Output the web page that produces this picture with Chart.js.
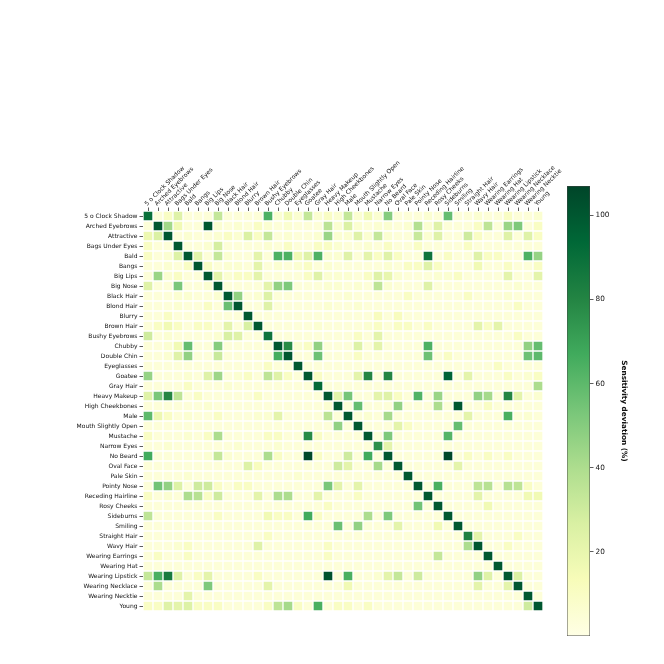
<!DOCTYPE html>
<html>
<head>
<meta charset="utf-8">
<script src="https://cdn.jsdelivr.net/npm/chart.js@4.4.1/dist/chart.umd.min.js"></script>
<style>
  html, body { margin: 0; padding: 0; background: #fff; }
  #wrap { position: relative; width: 664px; height: 664px; }
  #wrap canvas { position: absolute; left: 0; top: 0; }
</style>
</head>
<body>
<div id="wrap">
  <canvas id="chart-heat" width="664" height="664"></canvas>
  <canvas id="chart-bar" width="664" height="664"></canvas>
</div>
<script>
const attributes = [
  "5 o Clock Shadow", "Arched Eyebrows", "Attractive", "Bags Under Eyes", "Bald", "Bangs",
  "Big Lips", "Big Nose", "Black Hair", "Blond Hair", "Blurry", "Brown Hair", "Bushy Eyebrows",
  "Chubby", "Double Chin", "Eyeglasses", "Goatee", "Gray Hair", "Heavy Makeup", "High Cheekbones",
  "Male", "Mouth Slightly Open", "Mustache", "Narrow Eyes", "No Beard", "Oval Face", "Pale Skin",
  "Pointy Nose", "Receding Hairline", "Rosy Cheeks", "Sideburns", "Smiling", "Straight Hair",
  "Wavy Hair", "Wearing Earrings", "Wearing Hat", "Wearing Lipstick", "Wearing Necklace",
  "Wearing Necktie", "Young"
];

// sensitivity deviation (%), row = attribute changed, column = attribute measured
const sensitivity = [
  [90,4,10,24,4,4,4,33,4,4,4,4,64,6,16,6,33,6,10,6, 33,6,16,6,50,4,4,4,6,4,58,4,4,6,4,4,10,4,4,6],
  [4,100,43,16,4,4,100,6,4,6,4,10,6,4,6,4,4,4,36,6, 26,6,4,6,6,4,6,38,6,24,4,4,4,10,35,4,45,52,4,10],
  [18,26,100,4,6,4,4,6,10,6,26,10,33,4,6,4,4,6,45,6, 6,24,6,33,6,4,4,32,6,24,4,4,30,10,4,4,24,4,24,10],
  [10,4,4,100,4,4,6,28,4,4,4,4,6,4,10,4,4,10,10,6, 4,4,6,4,10,4,4,10,4,4,4,4,10,4,4,4,4,4,4,4],
  [10,4,6,25,100,22,4,33,6,4,4,22,4,64,64,16,24,64,6,6, 24,4,22,10,24,10,4,4,88,4,10,4,4,24,10,10,4,4,64,46],
  [4,4,6,4,10,100,10,4,6,6,4,22,4,6,4,6,10,4,6,4, 4,4,4,4,6,4,10,10,24,10,4,4,4,16,4,4,10,4,4,10],
  [4,45,6,10,4,4,100,22,6,10,10,22,4,4,4,4,10,24,6,6, 6,4,10,24,20,6,4,4,4,6,6,10,4,4,4,4,22,4,4,22],
  [24,4,4,53,4,4,6,100,4,4,4,4,22,47,52,4,4,4,6,6, 4,6,4,35,6,4,4,4,24,4,4,4,4,4,4,4,4,6,4,4],
  [4,4,4,6,6,4,4,6,100,47,4,6,25,4,4,4,4,4,4,4, 6,4,4,4,4,4,10,4,4,4,4,4,10,4,4,4,6,4,4,4],
  [4,4,4,6,4,4,10,4,57,100,4,4,24,4,4,4,4,4,6,4, 4,6,4,4,4,4,4,4,4,4,4,4,4,4,4,4,4,10,4,4],
  [4,4,10,4,4,4,4,4,4,4,100,4,4,4,4,4,4,4,4,4, 4,4,4,12,4,12,4,4,4,4,4,4,4,4,4,4,4,4,4,4],
  [4,10,16,10,4,10,10,4,22,4,27,100,4,4,4,4,4,6,4,4, 4,4,6,10,4,10,10,4,10,4,4,4,4,22,10,22,4,4,4,4],
  [30,4,6,4,4,4,4,6,27,24,4,4,88,4,4,4,4,4,4,4, 4,10,4,22,4,4,4,4,4,4,4,4,4,4,4,4,4,10,4,4],
  [4,4,6,16,58,4,4,50,4,4,4,4,4,100,78,6,10,47,4,4, 4,25,4,22,4,4,4,4,64,4,4,4,4,4,4,4,4,4,47,58],
  [4,4,6,24,47,4,4,32,4,4,4,4,4,66,100,4,4,56,4,4, 4,10,4,4,4,4,4,4,56,4,10,4,4,4,4,4,4,4,56,60],
  [4,4,4,4,4,4,4,4,4,4,4,4,10,4,4,100,4,4,4,4, 4,4,4,4,4,4,4,4,4,4,4,4,4,4,4,10,4,4,4,4],
  [46,4,4,4,6,4,24,44,4,6,10,4,35,24,10,4,100,10,4,4, 4,22,80,4,80,4,4,4,4,4,95,4,22,4,4,4,10,4,6,10],
  [4,4,4,4,10,4,4,4,6,4,4,4,4,4,4,4,4,92,4,4, 4,4,4,4,4,4,4,4,4,4,4,4,4,4,4,4,4,4,4,40],
  [24,53,80,35,4,10,4,4,4,4,4,10,4,4,4,4,4,4,100,22, 54,4,4,22,24,10,4,63,4,45,4,4,4,47,42,4,80,22,4,6],
  [4,4,4,4,4,4,6,4,4,4,4,4,4,4,4,4,4,4,6,100, 4,58,4,4,4,47,4,4,4,40,4,100,4,4,10,4,4,4,4,4],
  [60,18,10,4,6,4,4,10,4,4,4,6,6,22,4,4,4,4,36,4, 100,4,6,4,42,4,4,4,4,4,4,4,22,4,4,4,65,4,6,4],
  [4,4,4,4,4,4,4,4,4,4,4,4,4,4,4,4,4,4,4,47, 4,100,4,4,4,22,10,4,4,4,4,58,4,4,4,4,4,4,4,4],
  [10,4,4,4,6,4,10,40,4,4,4,4,10,10,4,4,78,10,4,4, 4,4,100,4,52,4,4,4,4,4,62,4,4,4,4,4,4,4,4,4],
  [4,4,6,4,4,4,4,4,4,6,4,4,4,6,4,4,4,4,4,4, 4,4,4,76,22,4,4,4,4,4,4,4,4,4,4,4,4,4,4,4],
  [67,4,4,4,4,4,6,33,6,4,4,4,40,10,4,4,106,10,4,4, 30,4,67,4,100,4,4,4,4,4,106,4,10,4,10,4,10,4,4,4],
  [4,4,4,4,4,4,4,4,4,4,25,12,4,4,4,4,4,4,4,30, 22,4,4,42,4,100,4,4,4,4,4,22,4,4,4,4,4,4,4,4],
  [4,4,4,4,6,4,4,4,4,4,4,4,4,4,4,6,4,4,4,4, 4,4,4,4,4,4,100,4,4,4,4,4,4,4,4,4,4,4,4,4],
  [4,55,47,25,4,30,30,10,4,10,10,4,4,4,4,4,4,4,53,22, 4,22,4,4,4,4,4,100,4,65,4,4,4,35,37,4,37,35,10,4],
  [10,4,6,4,40,37,10,30,4,4,4,22,4,40,40,4,4,22,4,4, 4,10,4,4,4,4,4,4,100,4,4,4,4,22,4,4,4,4,16,16],
  [4,4,4,4,4,4,4,4,4,4,4,4,4,4,4,4,4,4,10,4, 4,4,4,4,4,4,4,55,4,100,4,4,4,4,16,4,4,4,4,4],
  [35,4,4,4,4,4,4,10,4,4,4,4,16,10,10,4,67,10,4,4, 4,4,40,4,52,4,4,4,4,4,100,4,4,4,4,4,4,4,4,4],
  [4,4,4,4,4,4,4,4,4,4,4,4,4,4,4,4,4,4,4,57, 4,47,4,4,4,22,4,4,4,16,4,100,4,4,4,4,4,4,4,4],
  [4,4,4,4,4,4,4,4,4,4,4,4,10,4,4,4,4,4,4,4, 4,4,4,4,4,4,4,4,4,4,4,4,82,22,4,4,4,10,4,4],
  [4,4,4,6,10,4,4,4,4,4,4,24,4,4,4,4,4,4,10,4, 4,4,4,4,4,4,4,4,4,4,4,4,40,100,4,4,10,4,4,4],
  [4,10,4,4,10,4,4,4,4,4,4,4,4,4,4,4,4,4,10,4, 4,4,4,4,4,4,4,4,4,33,4,4,4,4,100,4,4,4,4,4],
  [4,4,4,4,4,4,4,4,4,4,4,4,4,4,4,4,4,4,4,4, 4,4,4,4,4,4,4,4,4,4,4,4,4,4,4,100,4,4,4,4],
  [33,65,85,24,4,10,22,4,4,4,4,10,4,4,4,4,4,4,102,4, 65,4,4,6,22,33,4,30,4,4,4,4,4,47,24,4,100,26,4,4],
  [4,40,4,4,4,4,52,4,4,4,4,4,22,4,4,4,4,4,4,4, 16,4,4,4,4,4,4,4,4,4,4,4,4,22,4,4,22,100,4,4],
  [4,4,4,4,22,4,4,4,4,4,4,4,4,4,4,4,4,4,4,4, 4,4,4,4,4,4,4,4,4,4,4,4,4,4,4,4,4,4,100,4],
  [10,10,24,22,25,10,10,10,4,4,4,4,10,35,42,10,4,65,4,10, 10,4,10,4,4,4,4,4,4,4,4,4,4,4,4,4,4,4,30,100]
];

const colorbarMax = 107;
const colorbarTicks = [20, 40, 60, 80, 100];

// matplotlib YlGn
const YLGN = ["#ffffe5", "#f7fcb9", "#d9f0a3", "#addd8e", "#78c679", "#41ab5d", "#238443", "#006837", "#004529"];
const ylgnRgb = YLGN.map(h => [1, 3, 5].map(i => parseInt(h.slice(i, i + 2), 16)));

function ylgn(v) {
  const t = Math.max(0, Math.min(1, v / colorbarMax)) * (YLGN.length - 1);
  const i = Math.min(Math.floor(t), YLGN.length - 2);
  const f = t - i;
  const c = ylgnRgb[i].map((a, k) => Math.round(a + (ylgnRgb[i + 1][k] - a) * f));
  return `rgb(${c[0]},${c[1]},${c[2]})`;
}

const FONT = "'DejaVu Sans', sans-serif";
const tickGrid = { display: true, drawOnChartArea: false, offset: false, tickLength: 3.5, tickWidth: 0.8, color: "#333" };

// ── Heatmap ───────────────────────────────────────────
const rowSets = sensitivity.map((row, r) => ({
  label: attributes[r],
  data: row.map(() => [r, r + 1]),
  backgroundColor: row.map(ylgn),
  borderColor: "#ffffff",
  borderWidth: 1,
  borderSkipped: false,
  barPercentage: 1,
  categoryPercentage: 1,
  grouped: false
}));

new Chart(document.getElementById("chart-heat"), {
  type: "bar",
  data: { labels: attributes, datasets: rowSets },
  options: {
    responsive: false, animation: false,
    layout: { padding: { left: 0, right: 121, top: 0, bottom: 53 } },
    plugins: { legend: { display: false }, tooltip: { enabled: false } },
    scales: {
      x: {
        position: "top",
        grid: tickGrid,
        border: { display: false },
        ticks: { autoSkip: false, maxRotation: 45, minRotation: 45, padding: 0, labelOffset: 3,
                 color: "#111", font: { family: FONT, size: 6 } },
        afterFit: s => { s.height = 211; }
      },
      y: {
        type: "linear", min: 0, max: 40, reverse: true,
        grid: tickGrid,
        border: { display: false },
        afterBuildTicks: s => { s.ticks = attributes.map((_, i) => ({ value: i + 0.5 })); },
        ticks: { autoSkip: false, padding: 2, color: "#111", font: { family: FONT, size: 6 },
                 callback: v => attributes[Math.floor(v)] },
        afterFit: s => { s.width = 143; }
      }
    }
  }
});

// ── Colorbar ──────────────────────────────────────────
new Chart(document.getElementById("chart-bar"), {
  type: "bar",
  data: {
    labels: [""],
    datasets: [{
      data: [[0, colorbarMax]],
      backgroundColor: ctx => {
        const a = ctx.chart.chartArea;
        if (!a) return YLGN[0];
        const g = ctx.chart.ctx.createLinearGradient(0, a.bottom, 0, a.top);
        YLGN.forEach((c, i) => g.addColorStop(i / (YLGN.length - 1), c));
        return g;
      },
      borderColor: "#444", borderWidth: 0.8, borderSkipped: false,
      barPercentage: 1, categoryPercentage: 1
    }]
  },
  options: {
    responsive: false, animation: false,
    layout: { padding: { left: 567, top: 186, bottom: 28, right: 36 } },
    plugins: { legend: { display: false }, tooltip: { enabled: false } },
    scales: {
      x: { display: false },
      y: {
        position: "right", min: 0, max: colorbarMax,
        grid: { drawOnChartArea: false, tickLength: 3.5, tickWidth: 0.8, color: "#333" },
        border: { display: false },
        afterBuildTicks: s => { s.ticks = colorbarTicks.map(v => ({ value: v })); },
        ticks: { padding: 2, color: "#111", font: { family: FONT, size: 7.3 } },
        title: { display: true, text: "Sensitivity deviation (%)", color: "#111", padding: 0,
                 font: { family: FONT, size: 7.3, weight: "bold" } },
        afterFit: s => { s.width = 38; }
      }
    }
  }
});
</script>
</body>
</html>
